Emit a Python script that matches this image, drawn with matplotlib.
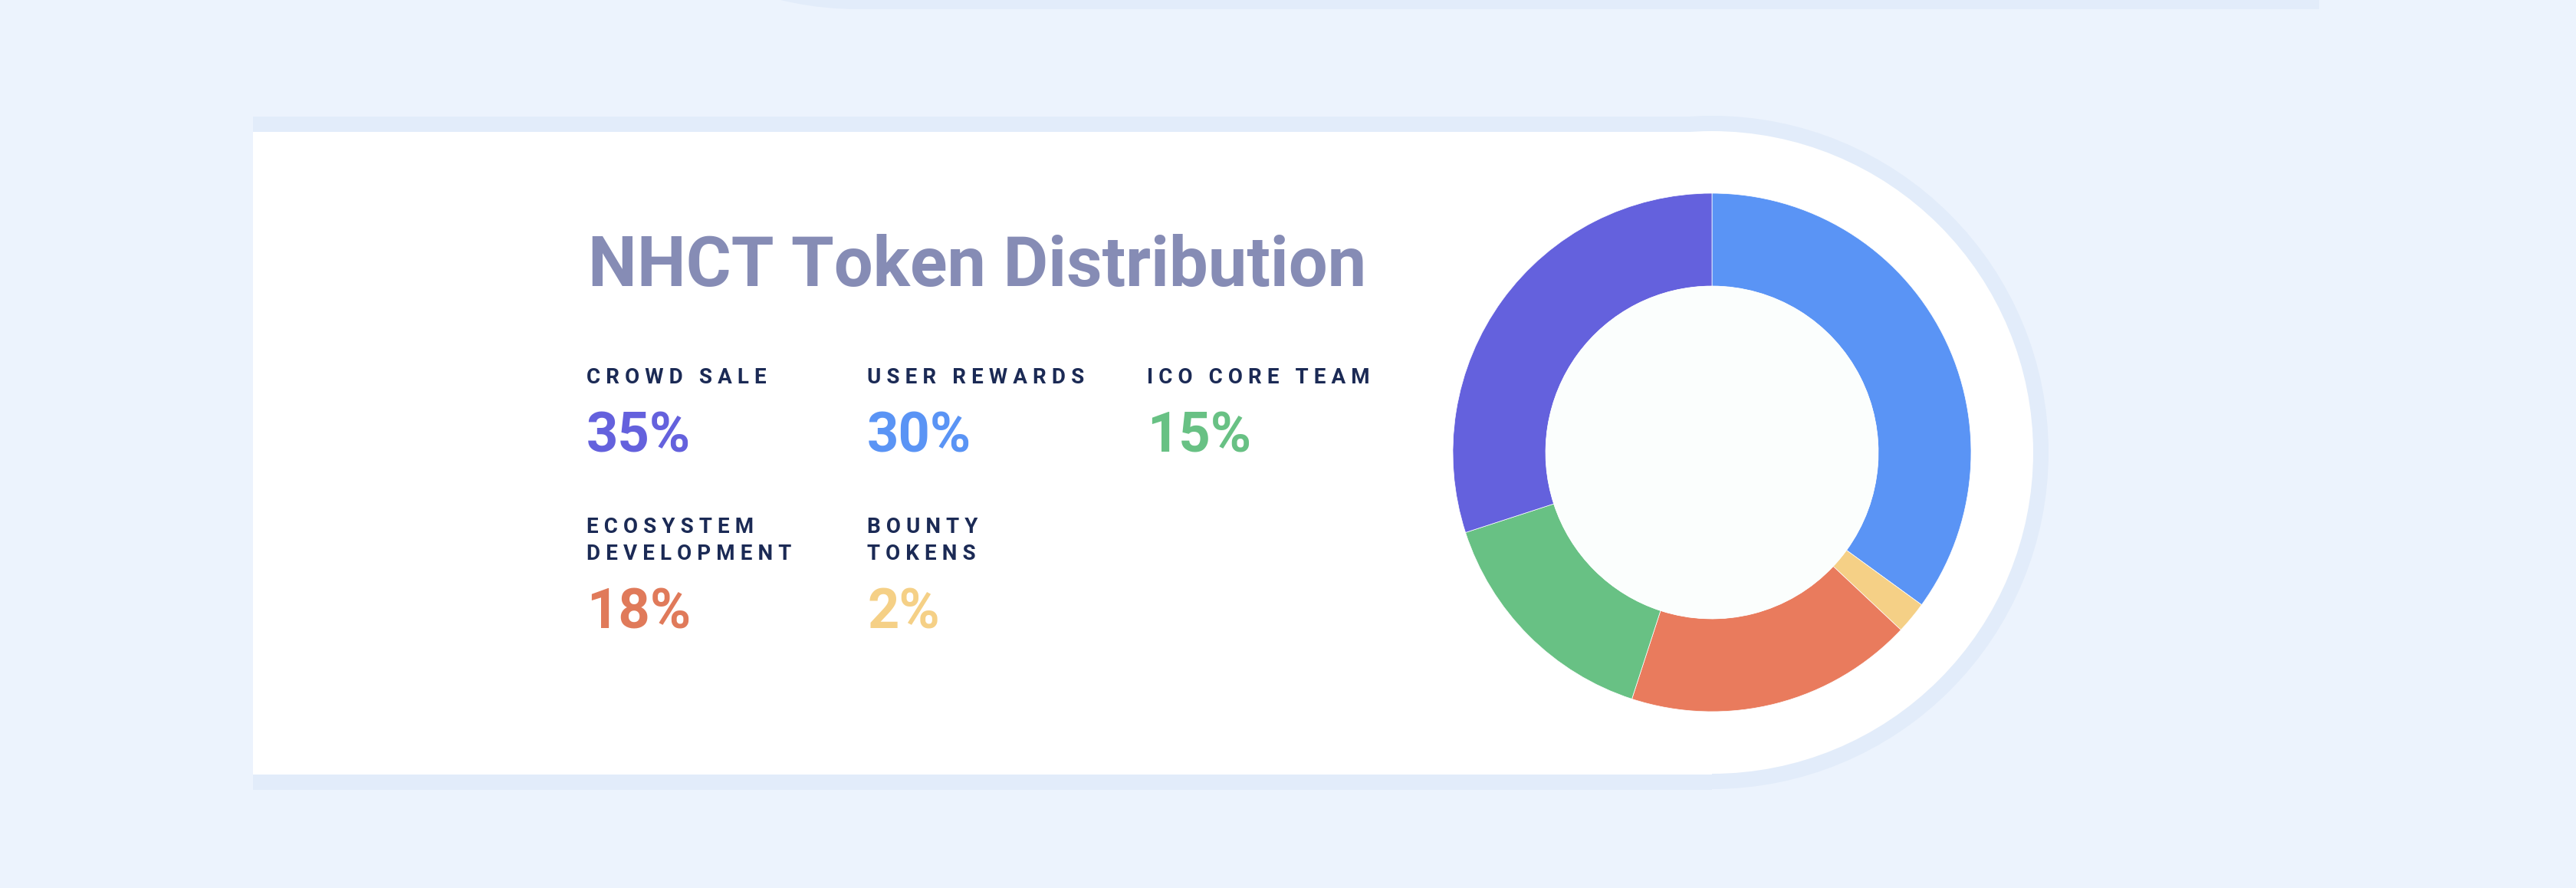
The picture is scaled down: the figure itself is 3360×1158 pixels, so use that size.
import matplotlib
matplotlib.use('Agg')
import matplotlib.pyplot as plt
from matplotlib.patches import Rectangle, Circle

W, H = 3360, 1158

# legend blocks, as printed on the card
labels = ['CROWD SALE', 'USER REWARDS', 'ICO CORE TEAM',
          'ECOSYSTEM\nDEVELOPMENT', 'BOUNTY\nTOKENS']
percents = [35, 30, 15, 18, 2]
pct_colors = ['#6461DD', '#5A94F5', '#68C184', '#E07A5A', '#F5D086']

# donut ring, clockwise from 12 o'clock, as drawn
ring_values = [35, 2, 18, 15, 30]
ring_colors = ['#5A94F5', '#F5D086', '#E97B5D', '#68C184', '#6461DD']

title = 'NHCT Token Distribution'

bg = '#ECF3FD'
border = '#E2ECFA'
title_color = '#868CB5'
label_color = '#1B2A55'


def py(y):
    # picture rows go down, axes go up
    return H - y


def spaced(s):
    return '\n'.join('\u2005'.join(line) for line in s.split('\n'))


fig = plt.figure(figsize=(W / 100, H / 100), dpi=100)
fig.patch.set_facecolor(bg)
ax = fig.add_axes([0, 0, 1, 1])
ax.set_facecolor(bg)

# bottom edge of the card above (cut by the top of the picture)
ax.add_patch(Rectangle((1120, py(12)), 3025 - 1120, 600, color=border, lw=0))
ax.add_patch(Circle((1120, py(12) + 440), 440, color=border, lw=0))

# main card: border shape, then white face
cx, cy = 2233, 590
ax.add_patch(Rectangle((330, py(1030)), cx - 330, 878, color=border, lw=0))
ax.add_patch(Circle((cx, py(cy)), 439, color=border, lw=0))
ax.add_patch(Rectangle((330, py(1010)), cx - 330, 838, color='white', lw=0))
ax.add_patch(Circle((cx, py(cy)), 419, color='white', lw=0))

# donut
ax.pie(ring_values, colors=ring_colors, startangle=90, counterclock=False,
       radius=338, center=(cx, py(cy)),
       wedgeprops=dict(width=338 - 217, edgecolor='white', linewidth=0.5))
ax.add_patch(Circle((cx, py(cy)), 217, color='#FBFEFD', lw=0, zorder=5))

ax.set_xlim(0, W)
ax.set_ylim(0, H)
ax.set_aspect('equal')
ax.axis('off')

ax.text(767, py(373), title, color=title_color, fontsize=65, fontweight='bold',
        family=['Roboto', 'DejaVu Sans'], ha='left', va='baseline')

col_x = [765, 1131, 1496, 765, 1131]
label_y = [500, 500, 500, 730, 730]
pct_y = [589, 589, 589, 819, 819]
for lab, pct, col, x, ly, pyy in zip(labels, percents, pct_colors, col_x, label_y, pct_y):
    ax.text(x, py(ly), spaced(lab), color=label_color, fontsize=20, fontweight='bold',
            family=['Roboto', 'DejaVu Sans'], ha='left', va='baseline', linespacing=1.4)
    ax.text(x, py(pyy), f'{pct}%', color=col, fontsize=52, fontweight='bold',
            family=['Roboto', 'DejaVu Sans'], ha='left', va='baseline')

fig.savefig('out.png', dpi=100, facecolor=bg)
